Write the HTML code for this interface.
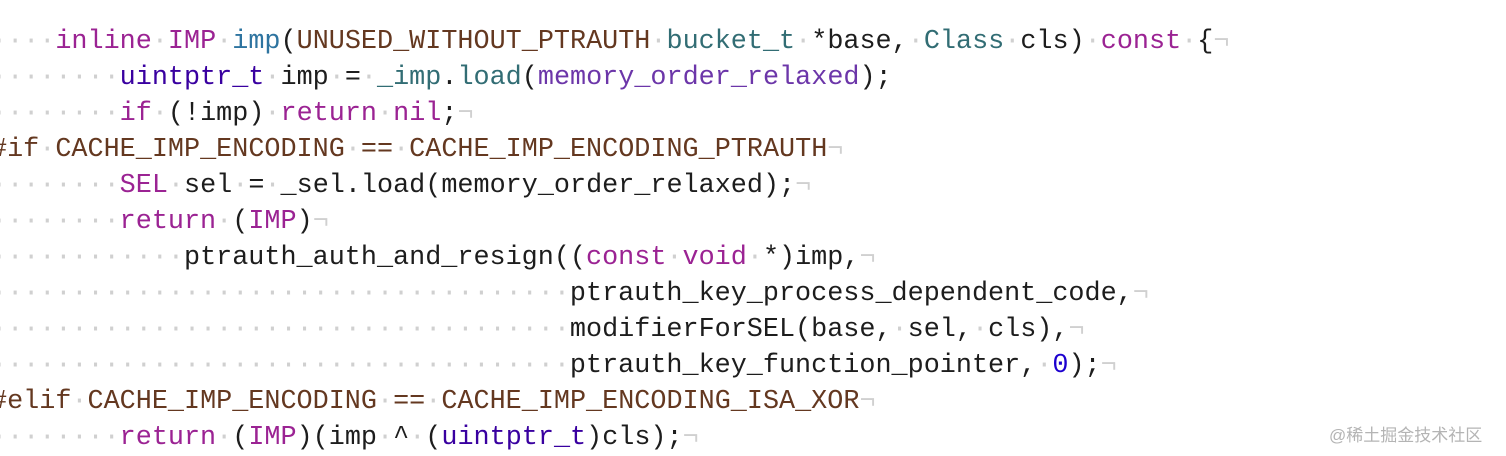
<!DOCTYPE html>
<html><head><meta charset="utf-8"><style>
html,body{margin:0;padding:0;background:#fff;width:1506px;height:456px;overflow:hidden}
pre{margin:0;position:absolute;left:-9px;top:24px;font-family:"Liberation Mono",monospace;font-size:26.8px;line-height:36px;color:#1d1d1d}
.d{color:#d0d0d0}.k{color:#9b2393}.f{color:#2e74a0}.m{color:#643820}.t{color:#3900a0}.l{color:#326d74}.p{color:#6c36a9}.n{color:#1c00cf}
.wm{position:absolute;left:1329px;top:421px;font-family:"Liberation Sans","Noto Sans CJK SC",sans-serif;font-size:17px;color:#b4b4b4}
</style></head><body>
<pre><span class="d">····</span><span class="k">inline</span><span class="d">·</span><span class="k">IMP</span><span class="d">·</span><span class="f">imp</span>(<span class="m">UNUSED_WITHOUT_PTRAUTH</span><span class="d">·</span><span class="l">bucket_t</span><span class="d">·</span>*base,<span class="d">·</span><span class="l">Class</span><span class="d">·</span>cls)<span class="d">·</span><span class="k">const</span><span class="d">·</span>{<span class="d">¬</span>
<span class="d">········</span><span class="t">uintptr_t</span><span class="d">·</span>imp<span class="d">·</span>=<span class="d">·</span><span class="l">_imp</span>.<span class="l">load</span>(<span class="p">memory_order_relaxed</span>);
<span class="d">········</span><span class="k">if</span><span class="d">·</span>(!imp)<span class="d">·</span><span class="k">return</span><span class="d">·</span><span class="k">nil</span>;<span class="d">¬</span>
<span class="m">#if</span><span class="d">·</span><span class="m">CACHE_IMP_ENCODING</span><span class="d">·</span><span class="m">==</span><span class="d">·</span><span class="m">CACHE_IMP_ENCODING_PTRAUTH</span><span class="d">¬</span>
<span class="d">········</span><span class="k">SEL</span><span class="d">·</span>sel<span class="d">·</span>=<span class="d">·</span>_sel.load(memory_order_relaxed);<span class="d">¬</span>
<span class="d">········</span><span class="k">return</span><span class="d">·</span>(<span class="k">IMP</span>)<span class="d">¬</span>
<span class="d">············</span>ptrauth_auth_and_resign((<span class="k">const</span><span class="d">·</span><span class="k">void</span><span class="d">·</span>*)imp,<span class="d">¬</span>
<span class="d">····································</span>ptrauth_key_process_dependent_code,<span class="d">¬</span>
<span class="d">····································</span>modifierForSEL(base,<span class="d">·</span>sel,<span class="d">·</span>cls),<span class="d">¬</span>
<span class="d">····································</span>ptrauth_key_function_pointer,<span class="d">·</span><span class="n">0</span>);<span class="d">¬</span>
<span class="m">#elif</span><span class="d">·</span><span class="m">CACHE_IMP_ENCODING</span><span class="d">·</span><span class="m">==</span><span class="d">·</span><span class="m">CACHE_IMP_ENCODING_ISA_XOR</span><span class="d">¬</span>
<span class="d">········</span><span class="k">return</span><span class="d">·</span>(<span class="k">IMP</span>)(imp<span class="d">·</span>^<span class="d">·</span>(<span class="t">uintptr_t</span>)cls);<span class="d">¬</span></pre>
<div class="wm">@稀土掘金技术社区</div>
</body></html>
